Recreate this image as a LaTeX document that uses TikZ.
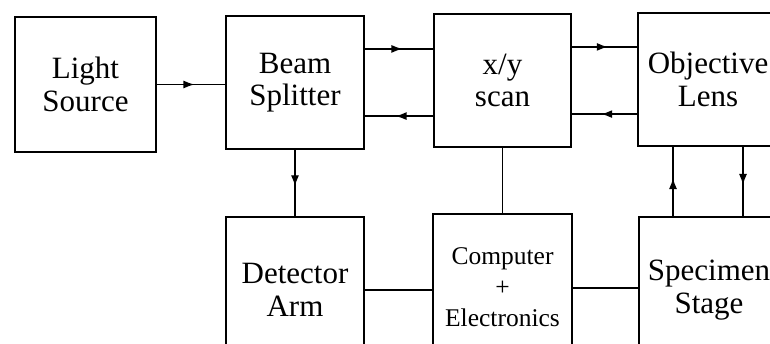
\documentclass[tikz,border=0pt]{standalone}
\usepackage{fontspec}
\setmainfont{Liberation Serif}
\usetikzlibrary{arrows.meta,calc,decorations.markings}

\tikzset{
  block/.style={draw,line width=1.3pt,align=center,inner sep=0pt,
    minimum width=140pt,minimum height=134pt,
    font=\fontsize{31}{32.5}\selectfont},
  midarrow/.style={postaction={decorate},decoration={markings,
    mark=at position 0.55 with {\arrow{Latex[length=11pt,width=8pt]}}}}
}

\begin{document}
\begin{tikzpicture}[x=1pt,y=-1pt,line width=1.3pt]
  \clip (0,0) rectangle (770,343);
  \fill[white] (0,0) rectangle (770,343);

  % Top row
  \node[block,minimum width=141pt,minimum height=135pt] (light) at (85.5,84.5) {Light\\Source};
  \node[block,minimum width=138pt,minimum height=133pt] (beam) at (295,82.5) {Beam\\Splitter};
  \node[block,minimum width=137pt,minimum height=133pt] (scan) at (502.5,80.5) {x/y\\scan};
  \node[block,minimum width=140pt,minimum height=133pt] (lens) at (708,79.5) {Objective\\Lens};

  % Bottom row (cut off at the lower edge)
  \node[block,minimum width=138pt,minimum height=146pt] (detector) at (295,290) {Detector\\Arm};
  \node[block,minimum width=139pt,minimum height=146pt,
        font=\fontsize{25.5}{31}\selectfont] (computer) at (502.5,287) {Computer\\+\\Electronics};
  \node[block,minimum width=140pt,minimum height=146pt] (stage) at (709,290) {Specimen\\Stage};

  % Light path
  \draw[midarrow] (light.east) -- (light.east -| beam.west);
  \coordinate (bsU) at ($(beam.north east)!0.25!(beam.south east)$);
  \coordinate (bsD) at ($(beam.north east)!0.75!(beam.south east)$);
  \draw[midarrow] (bsU) -- (bsU -| scan.west);
  \draw[midarrow] (bsD -| scan.west) -- (bsD);
  \coordinate (scU) at ($(scan.north east)!0.25!(scan.south east)$);
  \coordinate (scD) at ($(scan.north east)!0.75!(scan.south east)$);
  \draw[midarrow] (scU) -- (scU -| lens.west);
  \draw[midarrow] (scD -| lens.west) -- (scD);

  % Vertical links
  \draw[midarrow] (beam.south) -- (beam.south |- detector.north);
  \draw (scan.south) -- (scan.south |- computer.north);
  \coordinate (lnL) at (673,0);
  \coordinate (lnR) at (743,0);
  \draw[midarrow] (lnL |- stage.north) -- (lnL |- lens.south);
  \draw[midarrow] (lnR |- lens.south) -- (lnR |- stage.north);

  % Electronics links
  \draw (detector.east) -- (detector.east -| computer.west);
  \draw ([yshift=2pt]stage.west -| computer.east) -- ([yshift=2pt]stage.west);
\end{tikzpicture}
\end{document}
